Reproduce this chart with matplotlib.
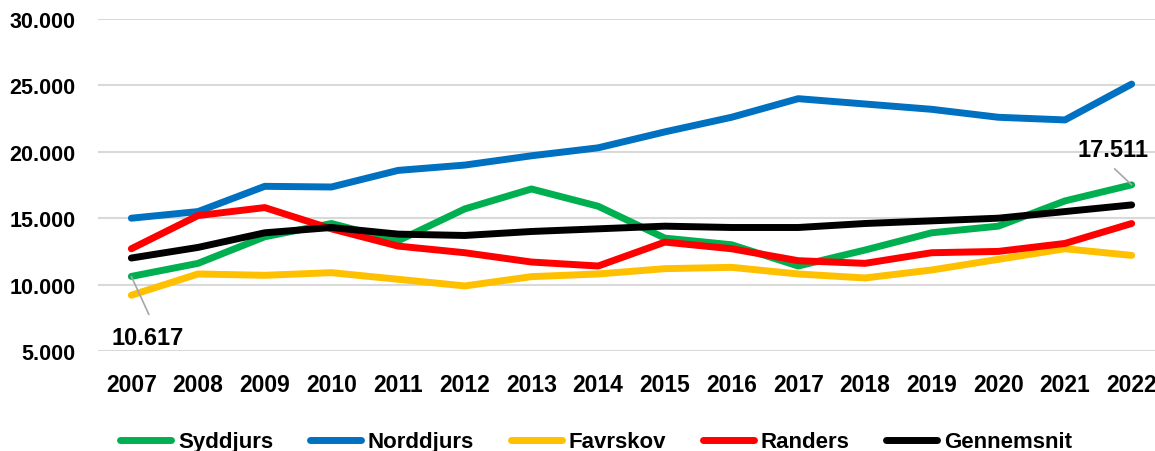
import matplotlib
matplotlib.use("Agg")
import matplotlib.pyplot as plt
from matplotlib.ticker import FuncFormatter

years = ["2007", "2008", "2009", "2010", "2011", "2012", "2013", "2014",
         "2015", "2016", "2017", "2018", "2019", "2020", "2021", "2022"]
syddjurs = [10617, 11600, 13600, 14600, 13300, 15700, 17200, 15900,
            13500, 13000, 11400, 12600, 13900, 14400, 16300, 17511]
norddjurs = [15000, 15500, 17400, 17350, 18600, 19000, 19700, 20300,
             21500, 22600, 24000, 23600, 23200, 22600, 22400, 25100]
favrskov = [9200, 10800, 10700, 10900, 10400, 9900, 10600, 10800,
            11200, 11300, 10800, 10500, 11100, 11900, 12700, 12200]
randers = [12700, 15200, 15800, 14200, 12900, 12400, 11700, 11400,
           13200, 12700, 11800, 11600, 12400, 12500, 13100, 14600]
gennemsnit = [12000, 12800, 13900, 14300, 13800, 13700, 14000, 14200,
              14400, 14300, 14300, 14600, 14800, 15000, 15500, 16000]

series = [("Syddjurs", syddjurs, "#00B050"),
          ("Norddjurs", norddjurs, "#0070C0"),
          ("Favrskov", favrskov, "#FFC000"),
          ("Randers", randers, "#FF0000"),
          ("Gennemsnit", gennemsnit, "#000000")]

plt.rcParams['font.family'] = ['Liberation Sans', 'DejaVu Sans']
plt.rcParams['font.weight'] = 'bold'


def fmt(v):
    return f"{int(v):,}".replace(",", ".")


W, H = 1155, 452
fig = plt.figure(figsize=(W / 100, H / 100), dpi=100)
ax = fig.add_axes([98 / W, 1 - 352 / H, (1165 - 98) / W, (352 - 20) / H])

x = list(range(len(years)))
lines = []
for name, vals, col in series:
    ln, = ax.plot(x, vals, color=col, lw=5.0, solid_capstyle='round',
                  solid_joinstyle='round', label=name, zorder=3)
    lines.append(ln)

ax.set_xlim(-0.5, len(years) - 0.5)
ax.set_ylim(5000, 30000)
ax.set_yticks([5000, 10000, 15000, 20000, 25000, 30000])
ax.yaxis.set_major_formatter(FuncFormatter(lambda v, p: fmt(v)))
ax.set_xticks(x)
ax.set_xticklabels(years)
ax.grid(axis='y', color='#D9D9D9', lw=1.5, zorder=0)
ax.set_axisbelow(True)
for s in ax.spines.values():
    s.set_visible(False)
ax.tick_params(axis='x', length=0, labelsize=16.5, pad=16)
ax.tick_params(axis='y', length=0, labelsize=15.5, pad=16)
for lab in ax.get_xticklabels() + ax.get_yticklabels():
    lab.set_fontweight('bold')

px = 0.72  # points per pixel at 100 dpi
lead = dict(arrowstyle='-', color='#A6A6A6', lw=1.2, shrinkA=0, shrinkB=0)
# first label
ax.annotate('', xy=(0, syddjurs[0]), xytext=(17.5 * px, -38 * px),
            textcoords='offset points', arrowprops=lead)
ax.annotate(fmt(syddjurs[0]), xy=(0, syddjurs[0]), xytext=(16.5 * px, -61 * px),
            textcoords='offset points', ha='center', va='center',
            fontsize=17, fontweight='bold')
# last label
ax.annotate('', xy=(15, syddjurs[-1]), xytext=(-17 * px, 16 * px),
            textcoords='offset points', arrowprops=lead)
ax.annotate(fmt(syddjurs[-1]), xy=(15, syddjurs[-1]), xytext=(-18.5 * px, 35.5 * px),
            textcoords='offset points', ha='center', va='center',
            fontsize=17, fontweight='bold')

fig.legend(handles=lines, loc='center', bbox_to_anchor=(596 / W, 1 - 443 / H),
           ncol=5, frameon=False, handlelength=2.3,
           handletextpad=0.3, columnspacing=1.65,
           prop={'weight': 'bold', 'size': 16})

fig.savefig("out.png", dpi=100)
